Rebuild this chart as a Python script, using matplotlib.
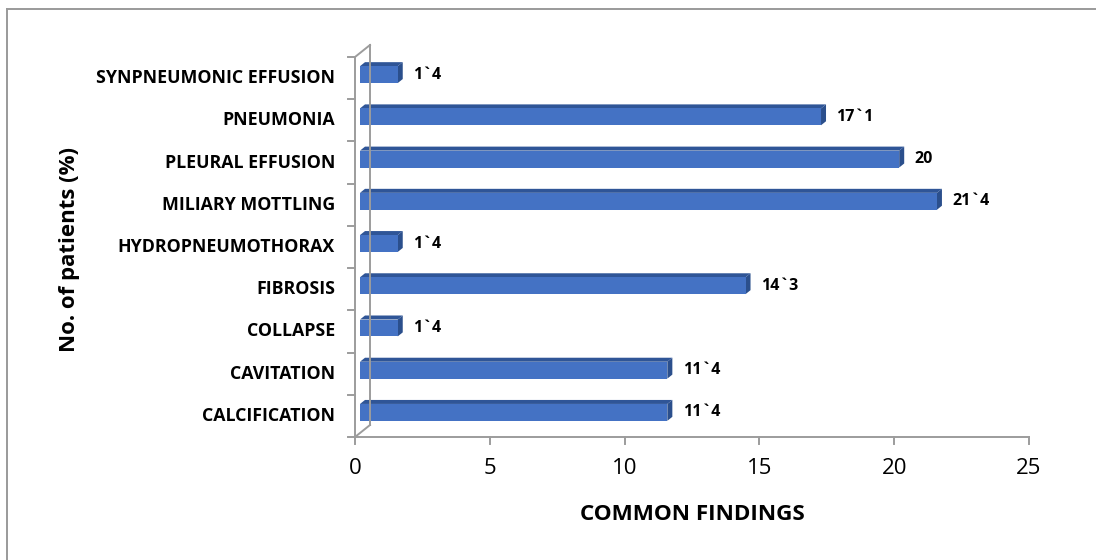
import matplotlib
matplotlib.use("Agg")
import matplotlib.pyplot as plt
from matplotlib.patches import Rectangle, Polygon
from matplotlib.lines import Line2D
from matplotlib.transforms import offset_copy

# Radiological findings, bottom to top
categories = [
    "CALCIFICATION",
    "CAVITATION",
    "COLLAPSE",
    "FIBROSIS",
    "HYDROPNEUMOTHORAX",
    "MILIARY MOTTLING",
    "PLEURAL EFFUSION",
    "PNEUMONIA",
    "SYNPNEUMONIC EFFUSION",
]
values = [11.4, 11.4, 1.4, 14.3, 1.4, 21.4, 20.0, 17.1, 1.4]
value_labels = ["11`4", "11`4", "1`4", "14`3", "1`4", "21`4", "20", "17`1", "1`4"]
x_ticks = [0, 5, 10, 15, 20, 25]

FONT = "Open Sans"
W, H = 1096, 560
fig = plt.figure(figsize=(W / 100, H / 100), dpi=100)
fig.patch.set_facecolor("white")

# outer chart frame (top and left edges)
fig.add_artist(Line2D([7 / W, 7 / W], [0, 1 - 9 / H], color="#9a9a9a", lw=1.4))
fig.add_artist(Line2D([7 / W, 1], [1 - 9 / H, 1 - 9 / H], color="#9a9a9a", lw=1.4))

ax = fig.add_axes([355 / W, 123 / H, 674 / W, 380 / H])
ax.set_xlim(0, 25)
ax.set_ylim(-0.5, len(categories) - 0.5)
ax.axis("off")

px_per_x = 674 / 25.0
px_per_y = 380 / len(categories)

# pseudo-3D geometry (pixels)
wall_dx, wall_dy = 15, 12      # depth of the back wall
bar_dx, bar_dy = 5, 3.5        # front face offset of bars
depth_dx, depth_dy = 5, 4      # bar depth
bar_h = 0.4

axis_col = "#9c9c9c"
lw_axis = 1.4

def shifted(dx, dy):
    return offset_copy(ax.transData, fig=fig, x=dx, y=dy, units="dots")

front = ax.transData
back = shifted(wall_dx, wall_dy)
ymin, ymax = -0.5, len(categories) - 0.5

# walls / floor outline
ax.add_line(Line2D([0, 0], [ymin, ymax], transform=front, color=axis_col, lw=lw_axis, clip_on=False))
ax.add_line(Line2D([0, 0], [ymin, ymax], transform=back, color=axis_col, lw=lw_axis, clip_on=False))
ax.add_line(Line2D([0, 25], [ymin, ymin], transform=front, color=axis_col, lw=lw_axis, clip_on=False))
ddx = wall_dx / px_per_x
ddy = wall_dy / px_per_y
for y0 in (ymin, ymax):
    ax.add_line(Line2D([0, ddx], [y0, y0 + ddy], transform=front, color=axis_col, lw=lw_axis, clip_on=False))

# category ticks on the left edge
tick_len = 7 / px_per_x
for k in range(len(categories) + 1):
    yk = ymin + k
    ax.add_line(Line2D([-tick_len, 0], [yk, yk], transform=front, color=axis_col, lw=lw_axis, clip_on=False))

# value ticks below the floor
for t in x_ticks:
    ax.add_line(Line2D([t, t], [ymin, ymin - 7 / px_per_y], transform=front, color=axis_col, lw=lw_axis, clip_on=False))
    ax.annotate(str(t), xy=(t, ymin), xytext=(0, -21), textcoords="offset pixels",
                ha="center", va="top", fontsize=16, family=FONT, color="#000000",
                annotation_clip=False)

# bars
c_front = "#4472c4"
c_top = "#2f5597"
c_side = "#2b4f8c"
bt = shifted(bar_dx, bar_dy)
bdx = depth_dx / px_per_x
bdy = depth_dy / px_per_y
for i, v in enumerate(values):
    y0, y1 = i - bar_h / 2, i + bar_h / 2
    side = Polygon([(v, y0), (v + bdx, y0 + bdy), (v + bdx, y1 + bdy), (v, y1)],
                   closed=True, transform=bt, facecolor=c_side, edgecolor="none", clip_on=False)
    top = Polygon([(0, y1), (bdx, y1 + bdy), (v + bdx, y1 + bdy), (v, y1)],
                  closed=True, transform=bt, facecolor=c_top, edgecolor="none", clip_on=False)
    face = Rectangle((0, y0), v, bar_h, transform=bt, facecolor=c_front,
                     edgecolor="none", clip_on=False)
    ax.add_patch(side)
    ax.add_patch(top)
    ax.add_patch(face)
    ax.annotate(value_labels[i], xy=(v, i), xytext=(bar_dx + 15.5, bar_dy), textcoords="offset pixels",
                ha="left", va="center", fontsize=11.5, fontweight="bold", family=FONT,
                color="#000000", annotation_clip=False)
    ax.annotate(categories[i], xy=(0, i), xytext=(-20, 0), textcoords="offset pixels",
                ha="right", va="center", fontsize=12.8, fontweight="bold", family=FONT,
                color="#000000", annotation_clip=False)

fig.text(692 / W, 1 - 514 / H, "COMMON FINDINGS", ha="center", va="center",
         fontsize=16.2, fontweight="bold", family=FONT)
fig.text(69 / W, 1 - 250 / H, "No. of patients (%)", ha="center", va="center",
         rotation=90, fontsize=16, fontweight="bold", family=FONT)

fig.savefig("out.png", dpi=100, facecolor="white")
